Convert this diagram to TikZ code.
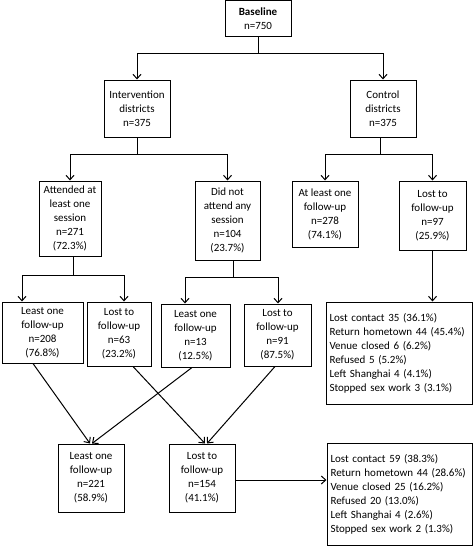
\documentclass[tikz,border=0pt]{standalone}
\usepackage{fontspec}
\setmainfont{Carlito}
\usetikzlibrary{arrows.meta,calc}
\begin{document}
\begin{tikzpicture}[x=1pt,y=-1pt,
  box/.style={draw,line width=1pt,align=center,inner sep=0pt,font=\fontsize{11}{14}\selectfont},
  rbox/.style={draw,line width=1pt,align=left,inner ysep=0pt,inner xsep=3.5pt,font=\fontsize{11}{14}\selectfont},
  ln/.style={line width=1pt},
  arr/.style={line width=1pt,-{Straight Barb[length=4.5pt,width=8pt,line width=1pt]}}]
\useasboundingbox (0,0) rectangle (473,546);
\node[box,minimum width=66pt,minimum height=36pt] (base) at (258,18.6) {\textbf{Baseline}\\n=750};
\node[box,minimum width=66pt,minimum height=57pt] (interv) at (137,108.5) {Intervention\\districts\\n=375};
\node[box,minimum width=66pt,minimum height=57pt] (control) at (383,108.5) {Control\\districts\\n=375};
\node[box,minimum width=62pt,minimum height=75pt] (att) at (70,218.5) {Attended at\\least one\\session\\n=271\\(72.3\%)};
\node[box,minimum width=65pt,minimum height=79pt] (dna) at (227.5,220.5) {Did not\\attend any\\session\\n=104\\(23.7\%)};
\node[box,minimum width=66pt,minimum height=66pt] (cone) at (325,214) {At least one\\follow-up\\n=278\\(74.1\%)};
\node[box,minimum width=67pt,minimum height=69pt] (clost) at (432.5,215.5) {Lost to\\follow-up\\n=97\\(25.9\%)};
\node[box,minimum width=81pt,minimum height=61pt] (a1) at (42.5,332.5) {Least one\\follow-up\\n=208\\(76.8\%)};
\node[box,minimum width=64pt,minimum height=64pt] (a2) at (119,334) {Lost to\\follow-up\\n=63\\(23.2\%)};
\node[box,minimum width=69pt,minimum height=63pt] (d1) at (195.5,335.5) {Least one\\follow-up\\n=13\\(12.5\%)};
\node[box,minimum width=67pt,minimum height=62pt] (d2) at (277.5,335) {Lost to\\follow-up\\n=91\\(87.5\%)};
\node[rbox,minimum width=146pt,minimum height=102pt,text width=139pt] (r1) at (399,353) {Lost contact 35 (36.1\%)\\Return hometown 44 (45.4\%)\\Venue closed 6 (6.2\%)\\Refused 5 (5.2\%)\\Left Shanghai 4 (4.1\%)\\Stopped sex work 3 (3.1\%)};
\node[box,minimum width=66pt,minimum height=68pt] (t1) at (91,478) {Least one\\follow-up\\n=221\\(58.9\%)};
\node[box,minimum width=66pt,minimum height=68pt] (t2) at (202,478) {Lost to\\follow-up\\n=154\\(41.1\%)};
\node[rbox,minimum width=145pt,minimum height=102pt,text width=138pt] (r2) at (399.5,494) {Lost contact 59 (38.3\%)\\Return hometown 44 (28.6\%)\\Venue closed 25 (16.2\%)\\Refused 20 (13.0\%)\\Left Shanghai 4 (2.6\%)\\Stopped sex work 2 (1.3\%)};
% junctions
\coordinate (j0) at (258,53);
\draw[ln] (base.south) -- (j0);
\draw[arr] (j0) -| (interv.north);
\draw[arr] (j0) -| (control.north);
\coordinate (j1) at (137,154);
\draw[ln] (interv.south) -- (j1);
\draw[arr] (j1) -| (att.north);
\draw[arr] (j1) -| (dna.north);
\coordinate (j2) at (380,154);
\draw[ln] (control.south -| j2) -- (j2);
\draw[arr] (j2) -| (cone.north);
\draw[arr] (j2) -| (clost.north);
\coordinate (j3) at (73,275);
\draw[ln] (att.south -| j3) -- (j3);
\draw[arr] (j3) -| ([xshift=-20.5pt]a1.north);
\draw[arr] (j3) -| ([xshift=5pt]a2.north);
\coordinate (j4) at (233,277);
\draw[ln] (dna.south -| j4) -- (j4);
\draw[arr] (j4) -| ([xshift=-10.5pt]d1.north);
\draw[arr] (j4) -| ([xshift=0.5pt]d2.north);
\draw[arr] (clost.south) -- (clost.south |- r1.north);
% diagonals
\draw[arr] ([xshift=-9.5pt]a1.south) -- ([xshift=-1pt]t1.north);
\draw[arr] ([xshift=14pt]a2.south) -- ([xshift=3pt]t2.north);
\draw[arr] ([xshift=-3.5pt]d1.south) -- ([xshift=1pt]t1.north);
\draw[arr] ([xshift=-2.5pt]d2.south) -- ([xshift=5pt]t2.north);
\draw[arr] ([yshift=-2pt]t2.east) -- ([yshift=-2pt]t2.east -| r2.west);
\end{tikzpicture}
\end{document}
